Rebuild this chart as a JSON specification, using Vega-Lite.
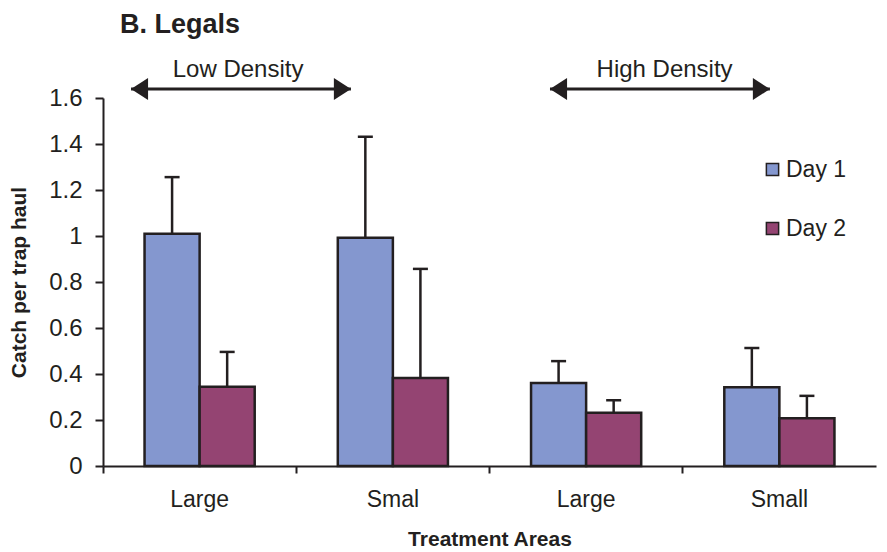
{
  "$schema": "https://vega.github.io/schema/vega-lite/v6.json",
  "autosize": "none",
  "width": 773,
  "height": 368,
  "padding": {"left": 103, "top": 98, "right": 11, "bottom": 86},
  "background": "white",
  "config": {
    "font": "Liberation Sans",
    "view": {"stroke": null},
    "axis": {"domainColor": "#231f20", "tickColor": "#231f20", "labelColor": "#231f20", "titleColor": "#231f20", "domainWidth": 2, "tickWidth": 2, "grid": false, "labelFont": "Liberation Sans", "titleFont": "Liberation Sans"},
    "legend": {"labelFont": "Liberation Sans"}
  },
  "title": {"text": "B. Legals", "anchor": "start", "frame": "group", "dx": 17, "offset": 19, "fontSize": 27, "fontWeight": "bold", "color": "#231f20", "font": "Liberation Sans"},
  "datasets": {
    "bars": [
      {"area": "Low|Large", "day": "Day 1", "value": 1.01, "upper": 1.256},
      {"area": "Low|Large", "day": "Day 2", "value": 0.345, "upper": 0.496},
      {"area": "Low|Smal", "day": "Day 1", "value": 0.992, "upper": 1.432},
      {"area": "Low|Smal", "day": "Day 2", "value": 0.383, "upper": 0.857},
      {"area": "High|Large", "day": "Day 1", "value": 0.361, "upper": 0.456},
      {"area": "High|Large", "day": "Day 2", "value": 0.231, "upper": 0.286},
      {"area": "High|Small", "day": "Day 1", "value": 0.342, "upper": 0.513},
      {"area": "High|Small", "day": "Day 2", "value": 0.208, "upper": 0.305}
    ],
    "arrows": [
      {"label": "Low Density", "start": 0.145, "end": 1.283, "mid": 0.699, "lineY": 1.639, "textY": 1.691},
      {"label": "High Density", "start": 2.313, "end": 3.451, "mid": 2.906, "lineY": 1.639, "textY": 1.691}
    ]
  },
  "layer": [
    {
      "data": {"name": "bars"},
      "encoding": {
        "x": {
          "field": "area", "type": "nominal", "sort": null,
          "scale": {"paddingInner": 0.43, "paddingOuter": 0.215},
          "axis": {"title": "Treatment Areas", "labelExpr": "split(datum.value, '|')[1]", "labelAngle": 0, "labelFontSize": 23, "labelPadding": 15, "tickSize": 7, "bandPosition": -0.377, "titleFontSize": 21, "titleFontWeight": "bold", "titlePadding": 17}
        },
        "xOffset": {"field": "day", "type": "nominal", "sort": ["Day 1", "Day 2"]},
        "y": {
          "field": "value", "type": "quantitative",
          "scale": {"domain": [0, 1.6], "nice": false, "zero": true},
          "axis": {"title": "Catch per trap haul", "values": [0, 0.2, 0.4, 0.6, 0.8, 1, 1.2, 1.4, 1.6], "format": "~g", "labelFontSize": 24, "labelPadding": 13, "tickSize": 8, "titleFontSize": 21, "titleFontWeight": "bold", "titlePadding": 19}
        }
      },
      "layer": [
        {
          "mark": {"type": "bar", "stroke": "#231f20", "strokeWidth": 2.5},
          "encoding": {
            "color": {
              "field": "day", "type": "nominal",
              "scale": {"domain": ["Day 1", "Day 2"], "range": ["#8497cf", "#944472"]},
              "legend": {"title": null, "orient": "none", "legendX": 658, "legendY": 60, "direction": "vertical", "symbolType": "square", "symbolSize": 150, "symbolStrokeColor": "#231f20", "symbolStrokeWidth": 1.5, "symbolOpacity": 1, "labelFontSize": 23, "labelColor": "#231f20", "labelOffset": 2, "rowPadding": 35, "padding": 0}
            }
          }
        },
        {
          "mark": {"type": "rule", "color": "#231f20", "strokeWidth": 2.5},
          "encoding": {"y2": {"field": "upper"}}
        },
        {
          "mark": {"type": "tick", "orient": "horizontal", "color": "#231f20", "size": 15, "thickness": 2.5, "opacity": 1},
          "encoding": {"y": {"field": "upper", "type": "quantitative"}}
        }
      ]
    },
    {
      "data": {"name": "arrows"},
      "encoding": {
        "y": {"field": "lineY", "type": "quantitative"}
      },
      "layer": [
        {
          "mark": {"type": "rule", "color": "#231f20", "strokeWidth": 3},
          "encoding": {
            "x": {"field": "start", "type": "quantitative", "scale": {"domain": [0, 4], "nice": false, "zero": false}, "axis": null},
            "x2": {"field": "end"}
          }
        },
        {
          "mark": {"type": "point", "shape": "M 0 0 L 1.55 -1 L 1.55 1 Z", "size": 484, "filled": true, "color": "#231f20", "opacity": 1},
          "encoding": {
            "x": {"field": "start", "type": "quantitative", "scale": {"domain": [0, 4], "nice": false, "zero": false}, "axis": null}
          }
        },
        {
          "mark": {"type": "point", "shape": "M 0 0 L -1.55 -1 L -1.55 1 Z", "size": 484, "filled": true, "color": "#231f20", "opacity": 1},
          "encoding": {
            "x": {"field": "end", "type": "quantitative", "scale": {"domain": [0, 4], "nice": false, "zero": false}, "axis": null}
          }
        },
        {
          "mark": {"type": "text", "fontSize": 24, "color": "#231f20", "baseline": "alphabetic", "align": "center"},
          "encoding": {
            "x": {"field": "mid", "type": "quantitative", "scale": {"domain": [0, 4], "nice": false, "zero": false}, "axis": null},
            "y": {"field": "textY", "type": "quantitative"},
            "text": {"field": "label"}
          }
        }
      ]
    }
  ],
  "resolve": {"scale": {"x": "independent"}, "axis": {"x": "independent"}}
}
